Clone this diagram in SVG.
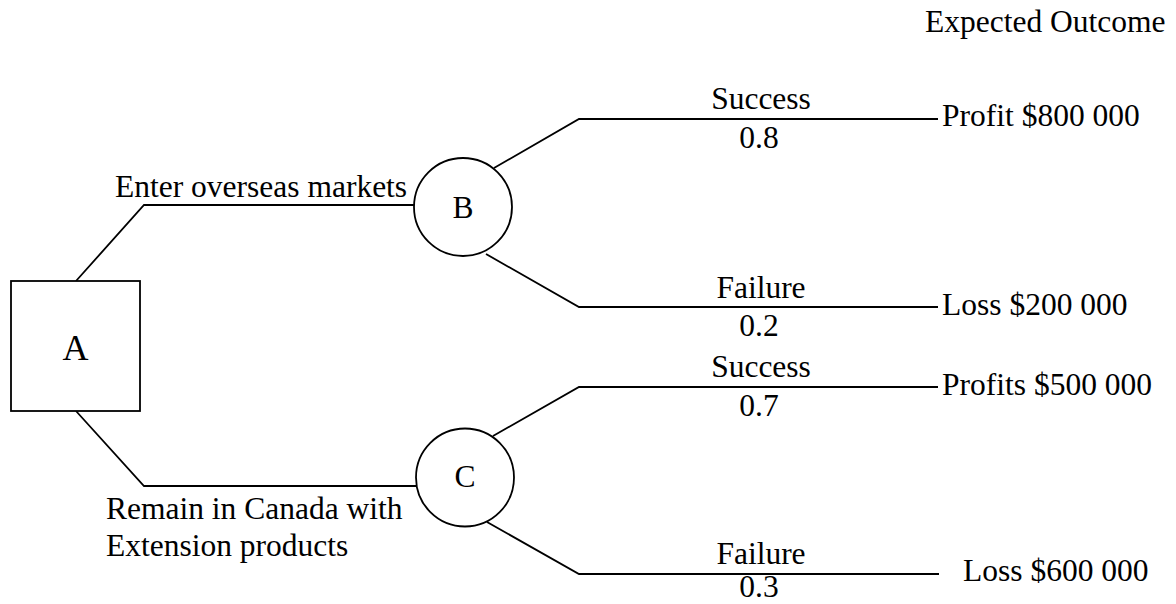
<svg xmlns="http://www.w3.org/2000/svg" width="1176" height="604" viewBox="0 0 1176 604">
<style>
text{font-family:"Liberation Serif","Times New Roman",serif;font-size:31.5px;fill:#000}
.c{text-anchor:middle}
.big{font-size:36px}
.ln{fill:none;stroke:#000;stroke-width:1.8}
.nd{fill:#fff;stroke:#000;stroke-width:1.8}
</style>
<rect width="1176" height="604" fill="#fff"/>
<g id="connectors">
<polyline class="ln" points="76,281 144,205 414,205"/>
<polyline class="ln" points="76,411 144,486 416,486"/>
<polyline class="ln" points="494,168 579,119 938,119"/>
<polyline class="ln" points="486,254 579,307 938,307"/>
<polyline class="ln" points="493,436 579,387 938,387"/>
<polyline class="ln" points="487,522 579,574 939,574"/>
</g>
<g id="node-A">
<rect class="nd" x="11" y="281" width="129" height="130"/>
<text class="c big" x="75.5" y="360">A</text>
</g>
<g id="node-B">
<circle class="nd" cx="463" cy="207" r="49"/>
<text class="c" x="463" y="218">B</text>
</g>
<g id="node-C">
<circle class="nd" cx="465" cy="477.5" r="49"/>
<text class="c" x="465" y="487">C</text>
</g>
<g id="labels">
<text x="925" y="32">Expected Outcome</text>
<text x="115" y="197">Enter overseas markets</text>
<text x="106" y="519">Remain in Canada with</text>
<text x="106" y="556">Extension products</text>
<text class="c" x="761" y="109">Success</text>
<text class="c" x="759" y="148">0.8</text>
<text class="c" x="761" y="298">Failure</text>
<text class="c" x="759" y="336">0.2</text>
<text class="c" x="761" y="377">Success</text>
<text class="c" x="759" y="416">0.7</text>
<text class="c" x="761" y="564">Failure</text>
<text class="c" x="759" y="597">0.3</text>
<text x="942" y="126">Profit $800 000</text>
<text x="942" y="315">Loss $200 000</text>
<text x="942" y="395">Profits $500 000</text>
<text x="963" y="581">Loss $600 000</text>
</g>
</svg>
